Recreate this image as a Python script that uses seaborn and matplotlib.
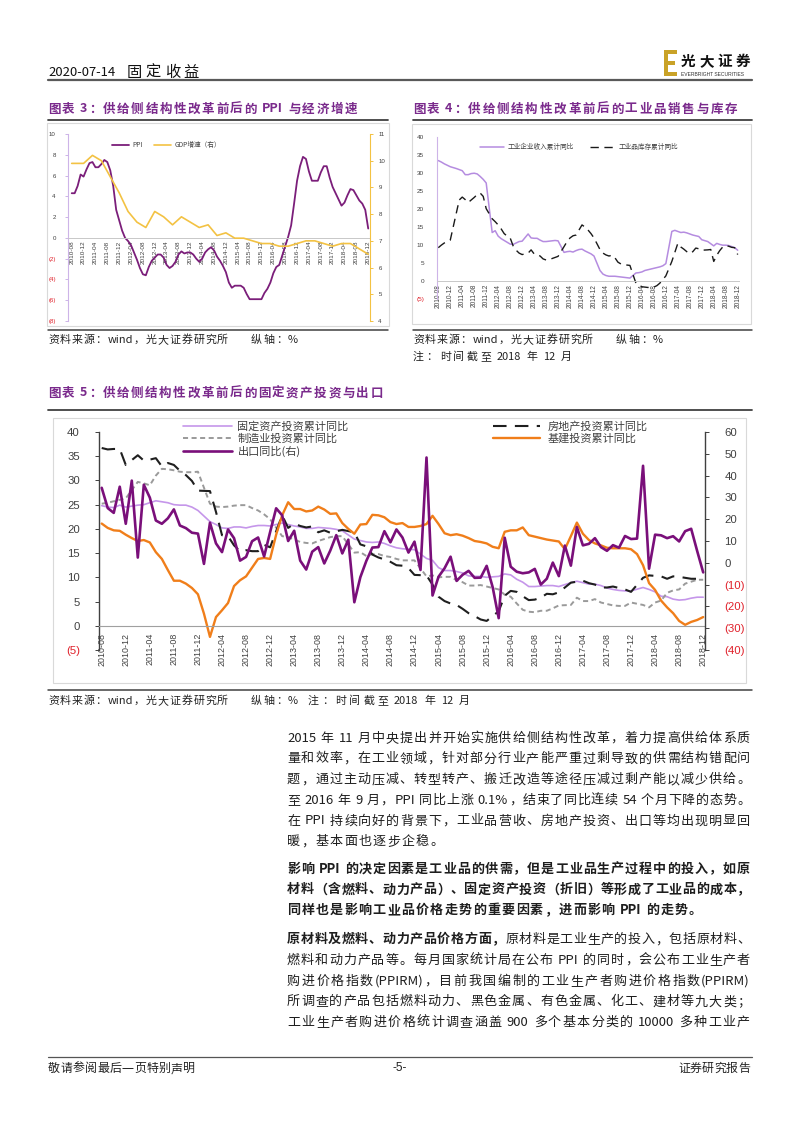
import numpy as np
import pandas as pd
import matplotlib
matplotlib.use('Agg')
import matplotlib.pyplot as plt
import seaborn as sns
from matplotlib.patches import Rectangle
from matplotlib.lines import Line2D
from matplotlib.font_manager import FontProperties

nan = np.nan

# ---------------- data (monthly, 2010-08 .. 2018-12) ----------------
months = pd.period_range('2010-08', '2018-12', freq='M').strftime('%Y-%m').tolist()

ppi = [
    4.3, 4.3, 5.0, 6.1, 5.9,
    6.6, 7.2, 7.3, 6.8, 6.8, 7.1, 7.5, 7.3, 6.5, 5.0, 2.7, 1.7,
    0.7, 0.0, -0.3, -0.7, -1.4, -2.1, -2.9, -3.5, -3.6, -2.8, -2.2, -1.9,
    -1.6, -1.6, -1.9, -2.6, -2.9, -2.7, -2.3, -1.6, -1.3, -1.5, -1.4, -1.4,
    -1.6, -2.0, -2.3, -2.0, -1.4, -1.1, -0.9, -1.2, -1.8, -2.2, -2.7, -3.3,
    -4.3, -4.8, -4.6, -4.6, -4.6, -4.8, -5.4, -5.9, -5.9, -5.9, -5.9, -5.9,
    -5.3, -4.9, -4.3, -3.4, -2.8, -2.6, -1.7, -0.8, 0.1, 1.2, 3.3, 5.5,
    6.9, 7.8, 7.6, 6.4, 5.5, 5.5, 5.5, 6.3, 6.9, 6.9, 5.8, 4.9,
    4.3, 3.7, 3.1, 3.4, 4.1, 4.7, 4.6, 4.1, 3.6, 3.3, 2.7, 0.9,
]

gdp_dates = ['2010-08', '2010-12', '2011-03', '2011-06', '2011-09', '2011-12',
             '2012-03', '2012-06', '2012-09', '2012-12', '2013-03', '2013-06',
             '2013-09', '2013-12', '2014-03', '2014-06', '2014-09', '2014-12',
             '2015-03', '2015-06', '2015-09', '2015-12', '2016-03', '2016-06',
             '2016-09', '2016-12', '2017-03', '2017-06', '2017-09', '2017-12',
             '2018-03', '2018-06', '2018-09', '2018-12']
gdp = [9.9, 9.9, 10.2, 10.0, 9.4, 8.8, 8.1, 7.7, 7.5, 8.1, 7.9, 7.6,
       7.9, 7.7, 7.5, 7.6, 7.2, 7.3, 7.1, 7.1, 7.0, 6.9, 6.9, 6.8,
       6.8, 6.9, 7.0, 7.0, 6.9, 6.8, 6.9, 6.9, 6.7, 6.5]

revenue = [
    33.4, 33.0, 32.5, 32.1, 31.7,
    nan, 31.2, 30.9, 30.6, 29.5, 29.5, 29.8, 29.9, 29.7, 29.0, 28.2, 27.2,
    nan, 13.5, 14.0, 12.5, 11.8, 11.3, 10.8, 10.3, 10.2, 10.6, 11.0, 11.1,
    nan, 13.1, 12.0, 11.9, 11.9, 11.4, 11.0, 11.0, 11.1, 11.2, 11.3, 11.2,
    nan, 8.0, 8.2, 8.3, 8.1, 8.5, 8.8, 8.9, 8.4, 8.0, 7.6, 7.0,
    nan, 3.0, 2.0, 1.6, 1.4, 1.4, 1.4, 1.3, 1.2, 1.1, 1.0, 0.9,
    nan, 2.3, 2.4, 2.6, 3.0, 3.2, 3.4, 3.6, 3.8, 4.0, 4.3, 4.9,
    nan, 13.8, 14.1, 13.8, 13.5, 13.6, 13.4, 13.1, 12.8, 12.6, 12.4, 11.5,
    nan, 11.0, 10.4, 9.8, 10.5, 10.2, 10.0, 10.0, 9.9, 9.6, 9.3, 8.6,
]
inventory = [
    9.3, 10.0, 10.6, 11.0, 11.4,
    nan, 18.8, 22.5, 23.3, 22.6, 21.8, 22.5, 23.2, 24.0, 24.4, 23.5, 20.1,
    nan, 17.3, 16.5, 15.6, 14.5, 13.2, 12.5, 12.0, 9.8, 8.6, 7.8, 7.4,
    nan, 7.8, 8.7, 7.6, 7.4, 7.0, 6.2, 5.9, 6.0, 6.3, 6.6, 6.9,
    nan, 9.6, 11.0, 12.0, 12.6, 12.8, 14.2, 15.6, 15.0, 14.2, 13.2, 12.0,
    nan, 8.8, 7.8, 7.3, 7.0, 7.2, 6.5, 5.3, 4.8, 4.6, 4.5, 4.4,
    nan, -0.5, -1.0, -1.5, -1.6, -1.7, -1.6, -1.6, -1.2, -0.5, 0.5, 1.5,
    nan, 5.5, 8.0, 10.5, 9.5, 8.9, 8.2, 7.7, 8.2, 9.2, 9.0, 8.6,
    nan, 8.7, 8.8, 5.5, 7.2, 8.5, 9.5, 9.9, 9.7, 9.4, 9.3, 7.4,
]

fai = [
    24.8, 24.5, 24.4, 24.9, 24.5,
    nan, 24.9, 25.0, 25.4, 25.8, 25.6, 25.4, 25.0, 24.9, 24.9, 24.5, 23.8,
    nan, 21.5, 20.9, 20.2, 20.1, 20.4, 20.4, 20.2, 20.5, 20.7, 20.7, 20.6,
    nan, 21.2, 20.9, 20.6, 20.4, 20.1, 20.1, 20.3, 20.2, 20.1, 19.9, 19.6,
    nan, 17.9, 17.6, 17.3, 17.2, 17.3, 17.0, 16.5, 16.1, 15.9, 15.8, 15.7,
    nan, 13.9, 13.5, 12.0, 11.4, 11.4, 11.2, 10.9, 10.3, 10.2, 10.2, 10.0,
    nan, 10.2, 10.7, 10.5, 9.6, 9.0, 8.1, 8.1, 8.2, 8.3, 8.3, 8.1,
    nan, 8.9, 9.2, 8.9, 8.6, 8.6, 8.3, 7.8, 7.5, 7.3, 7.2, 7.2,
    nan, 7.9, 7.5, 7.0, 6.1, 6.0, 5.5, 5.3, 5.4, 5.7, 5.9, 5.9,
]
manufacturing = [
    25.2, 25.4, 25.7, 26.0, 26.3,
    nan, 29.7, 29.4, 29.0, 31.0, 32.4, 32.3, 32.1, 31.8, 31.7, 31.7, 31.8,
    nan, 25.2, 24.6, 24.5, 24.6, 24.8, 24.9, 24.9, 24.3, 23.8, 23.0, 22.0,
    nan, 18.5, 18.3, 17.8, 17.3, 17.1, 17.0, 17.5, 17.9, 18.3, 18.5, 18.5,
    nan, 15.1, 15.2, 14.4, 14.8, 14.8, 14.4, 14.2, 13.8, 13.5, 13.5, 13.5,
    nan, 10.2, 10.4, 10.0, 10.1, 10.1, 9.4, 9.0, 8.3, 8.3, 8.4, 8.1,
    nan, 7.5, 6.4, 6.0, 4.6, 3.3, 2.9, 2.8, 3.1, 3.1, 3.6, 4.2,
    nan, 4.3, 5.8, 5.1, 5.1, 5.5, 4.8, 4.5, 4.2, 4.1, 4.1, 4.8,
    nan, 4.3, 3.8, 4.8, 5.2, 6.8, 7.3, 7.5, 8.7, 9.1, 9.5, 9.5,
]
real_estate = [
    36.7, 36.4, 36.5, 36.5, 33.2,
    nan, 35.2, 34.1, 34.3, 34.6, 32.9, 33.6, 33.2, 32.0, 31.1, 29.9, 27.9,
    nan, 27.8, 23.5, 18.7, 18.5, 16.6, 15.4, 15.6, 15.4, 15.4, 16.7, 16.2,
    nan, 22.8, 20.2, 21.1, 20.6, 20.3, 20.5, 19.3, 19.7, 19.2, 19.5, 19.8,
    nan, 19.3, 16.8, 16.4, 14.7, 14.1, 13.7, 13.2, 12.5, 12.4, 11.9, 10.5,
    nan, 10.4, 8.5, 6.0, 5.1, 4.6, 4.3, 3.5, 2.6, 2.0, 1.3, 1.0,
    nan, 3.0, 6.2, 7.2, 7.0, 6.1, 5.3, 5.4, 5.8, 6.6, 6.5, 6.9,
    nan, 8.9, 9.1, 9.3, 8.8, 8.5, 7.9, 7.9, 8.1, 7.8, 7.5, 7.0,
    nan, 9.9, 10.4, 10.3, 10.2, 9.7, 10.2, 10.1, 9.9, 9.7, 9.7, 9.5,
]
infra = [
    21.1, 20.2, 19.7, 19.6, 18.8,
    18.1, 17.5, 17.7, 17.2, 15.2, 13.8, 11.5, 9.3, 9.3, 8.7, 7.8, 6.5,
    2.5, -2.3, 1.8, 3.2, 4.7, 8.2, 9.4, 10.2, 12.0, 13.8, 14.0, 13.8,
    18.8, 22.8, 25.5, 24.1, 24.1, 23.6, 23.8, 24.6, 24.0, 23.1, 23.2, 21.2,
    20.0, 19.0, 20.9, 21.0, 22.9, 22.8, 22.4, 21.4, 21.0, 21.2, 20.4, 20.4,
    20.6, 21.0, 22.7, 21.0, 19.1, 18.7, 18.9, 18.6, 18.1, 17.5, 17.3, 17.0,
    16.3, 16.0, 19.4, 19.7, 19.7, 20.3, 18.7, 18.4, 18.1, 17.8, 17.6, 17.4,
    15.8, 18.5, 21.3, 19.0, 17.7, 17.0, 16.6, 16.1, 16.0, 16.0, 16.0, 15.8,
    14.8, 12.5, 8.8, 7.4, 5.2, 3.8, 2.6, 1.0, 0.2, 0.8, 1.2, 1.8,
]
export = [
    34.4, 25.1, 22.9, 34.9, 17.9,
    37.7, 2.4, 35.8, 29.9, 19.4, 17.9, 20.4, 24.5, 17.1, 15.9, 13.8, 13.4,
    -0.5, 18.4, 8.9, 4.9, 15.3, 11.3, 1.0, 2.7, 9.9, 11.6, 2.9, 14.1,
    25.0, 21.8, 10.0, 14.7, 1.0, -3.1, 5.1, 7.2, -0.3, 5.6, 12.7, 4.3,
    10.6, -18.1, -6.6, 0.9, 7.0, 7.2, 14.5, 9.4, 15.3, 11.6, 4.7, 9.7,
    -3.3, 48.3, -15.0, -6.4, -2.5, 2.8, -8.3, -5.5, -3.7, -6.9, -6.8, -1.4,
    -11.2, -25.4, 11.5, -1.8, -4.1, -4.8, -4.4, -2.8, -10.0, -7.3, 0.1, -6.1,
    7.9, -1.3, 16.4, 8.0, 8.7, 11.3, 7.2, 5.5, 8.1, 6.9, 12.3, 10.9,
    11.1, 44.5, -2.7, 12.9, 12.6, 11.3, 12.2, 9.8, 14.5, 15.6, 5.4, -4.4,
]

df = pd.DataFrame({'m': np.arange(len(months)), 'month': months, 'ppi': ppi,
                   'revenue': revenue, 'inventory': inventory, 'fai': fai,
                   'manufacturing': manufacturing, 'real_estate': real_estate,
                   'infra': infra, 'export': export})
gdp_df = pd.DataFrame({'m': [months.index(d) for d in gdp_dates], 'gdp': gdp})
tick_pos = df['m'][::4].tolist()
tick_labels = df['month'][::4].tolist()

# ---------------- page setup ----------------
sns.set_style('white')
CJK = ['Noto Sans CJK SC', 'DejaVu Sans']
LAT = ['Liberation Sans', 'DejaVu Sans']
plt.rcParams['font.family'] = CJK
plt.rcParams['axes.unicode_minus'] = False

W, H = 800, 1132
fig = plt.figure(figsize=(8, 11.32), dpi=100)
fig.patch.set_facecolor('white')
renderer = fig.canvas.get_renderer()

PURPLE_T = '#7A2A8C'
RED = '#E0202A'


def box(x0, y0, x1, y1):
    return [x0 / W, 1 - y1 / H, (x1 - x0) / W, (y1 - y0) / H]


def hline(y, x0, x1, color='#555555', lw=1.1):
    fig.add_artist(Line2D([x0 / W, x1 / W], [1 - y / H] * 2, color=color, lw=lw))


def frame(x0, y0, x1, y1):
    fig.add_artist(Rectangle((x0 / W, 1 - y1 / H), (x1 - x0) / W, (y1 - y0) / H,
                             fill=False, ec='#D9D9D9', lw=0.8))


def tokens(s):
    out, run = [], ''
    for ch in s:
        if ch == ' ':
            if run:
                out.append(run)
                run = ''
            out.append(' ')
        elif ord(ch) < 128:
            run += ch
        else:
            if run:
                out.append(run)
                run = ''
            out.append(ch)
    if run:
        out.append(run)
    return out


def put(x0, yc, segs, size, x1=None, gap=1.0, color='#222222'):
    # lays text out token by token, spread to x1 when given (justified lines)
    if isinstance(segs, str):
        segs = [(segs, 'normal')]
    px = size * 100 / 72
    items = []
    for s, wt in segs:
        prop = FontProperties(family=CJK, size=size, weight=wt)
        for t in tokens(s):
            if t == ' ':
                if items:
                    items[-1][3] += 0.28 * px
            else:
                w = renderer.get_text_width_height_descent(t, prop, ismath=False)[0]
                items.append([t, wt, w, 0.0])
    total = sum(i[2] + i[3] for i in items[:-1]) + items[-1][2]
    if x1 is not None and len(items) > 1:
        gap = (x1 - x0 - total) / (len(items) - 1)
    x = x0
    base = yc + 0.36 * px
    for t, wt, w, sp in items:
        fig.text(x / W, 1 - base / H, t, fontsize=size, weight=wt, color=color,
                 va='baseline', ha='left')
        x += w + sp + gap


def paren(v):
    return f'({abs(int(v))})' if v < 0 else f'{int(v)}'


def style_x(ax, size, pad, zero_color, zero_lw, tick_len=0):
    # spine position first: moving the spine resets the tick objects
    ax.spines['bottom'].set_position(('data', 0))
    ax.spines['bottom'].set_color(zero_color)
    ax.spines['bottom'].set_linewidth(zero_lw)
    ax.set_xticks(tick_pos)
    ax.set_xticklabels(tick_labels)
    ax.tick_params(axis='x', length=tick_len, width=0.6, color=zero_color, pad=pad,
                   labelrotation=90, labelsize=size, labelcolor='#404040')
    for t in ax.get_xticklabels():
        t.set_fontfamily(LAT)


def style_y(ax, ticks, size, color, pad, tick_len):
    ax.set_yticks(ticks)
    ax.set_yticklabels([paren(v) for v in ticks])
    ax.tick_params(axis='y', length=tick_len, width=0.7, color=color, pad=pad, labelsize=size)
    for t, v in zip(ax.get_yticklabels(), ticks):
        t.set_color(RED if v < 0 else '#404040')
        t.set_fontfamily(LAT)


# ---------------- header / footer ----------------
put(48, 71, '2020-07-14', 9.4, color='#111111')
put(127, 71, '固定收益', 11, x1=199, color='#111111')
hline(80, 48, 752, color='#595959', lw=1.6)
gold = '#C9A227'
for (a, b, c, d) in [(664, 50, 668, 76), (664, 50, 677, 54), (664, 61, 675, 65), (664, 72, 677, 76)]:
    fig.add_artist(Rectangle((a / W, 1 - d / H), (c - a) / W, (d - b) / H, color=gold, lw=0))
put(681, 61, [('光大证券', 'bold')], 10.5, x1=750, color='#111111')
fig.text(681 / W, 1 - 75 / H, 'EVERBRIGHT SECURITIES', fontsize=3.6, family=LAT,
         color='#333333', va='center', ha='left')

hline(1057, 48, 752, color='#555555', lw=0.9)
put(48, 1068, '敬请参阅最后一页特别声明', 8.6, x1=195, color='#222222')
fig.text(400 / W, 1 - 1068 / H, '-5-', fontsize=8.6, family=LAT, ha='center', va='center', color='#222222')
put(678, 1068, '证券研究报告', 8.6, x1=750, color='#222222')

# ---------------- figure titles / rules / sources ----------------
put(48, 108, [('图表 3：供给侧结构性改革前后的 PPI 与经济增速', 'bold')], 9, x1=357, color=PURPLE_T)
put(413, 108, [('图表 4：供给侧结构性改革前后的工业品销售与库存', 'bold')], 9, x1=737, color=PURPLE_T)
hline(120, 48, 388, color='#404040', lw=1.3)
hline(120, 413, 752, color='#404040', lw=1.3)
frame(47, 123, 389, 326)
frame(412, 124, 751, 324)
hline(330, 48, 388, color='#404040', lw=1.1)
hline(330, 413, 752, color='#404040', lw=1.1)
put(48, 339, '资料来源：wind，光大证券研究所', 7.9, x1=228)
put(251, 339, '纵轴：%', 7.9, x1=298)
put(413, 339, '资料来源：wind，光大证券研究所', 7.9, x1=593)
put(616, 339, '纵轴：%', 7.9, x1=663)
put(413, 356, '注：时间截至 2018 年 12 月', 7.9, x1=572)

put(48, 392, [('图表 5：供给侧结构性改革前后的固定资产投资与出口', 'bold')], 9, x1=383, color=PURPLE_T)
hline(410, 48, 752, color='#404040', lw=1.3)
frame(53, 418, 746, 683)
hline(690, 48, 752, color='#404040', lw=1.1)
put(48, 700, '资料来源：wind，光大证券研究所', 7.9, x1=228)
put(251, 700, '纵轴：%', 7.9, x1=298)
put(308, 700, '注：时间截至 2018 年 12 月', 7.9, x1=470)

# ---------------- chart 1: PPI & GDP ----------------
LAV = '#CDB4E8'
GOLD = '#F3C243'
ax1 = fig.add_axes(box(68.3, 134, 370, 321))
sns.lineplot(data=df, x='m', y='ppi', ax=ax1, color='#7B1E7A', lw=1.3, estimator=None)
ax1.set_xlim(-1.15, 100.6)
ax1.set_ylim(-8, 10)
style_x(ax1, 4.6, 2, '#C8C8C8', 0.7)
style_y(ax1, list(range(-8, 11, 2)), 4.4, LAV, 7, 2)
ax1.spines['left'].set_color(LAV)
ax1.spines['top'].set_visible(False)
ax1.spines['right'].set_visible(False)
ax1.set_xlabel('')
ax1.set_ylabel('')
ax1.patch.set_visible(False)

ax1b = ax1.twinx()
sns.lineplot(data=gdp_df, x='m', y='gdp', ax=ax1b, color=GOLD, lw=1.2, estimator=None)
ax1b.set_ylim(4, 11)
style_y(ax1b, list(range(4, 12)), 4.4, GOLD, 4, 2)
for s in ['top', 'left', 'bottom']:
    ax1b.spines[s].set_visible(False)
ax1b.spines['right'].set_color(GOLD)
ax1b.set_ylabel('')
ax1b.legend([ax1.lines[0], ax1b.lines[0]], ['PPI', 'GDP增速（右）'], ncol=2,
            loc='center left', bbox_to_anchor=(112 / W, 1 - 145 / H),
            bbox_transform=fig.transFigure, frameon=False, borderpad=0, borderaxespad=0,
            prop=FontProperties(family=CJK, size=4.8), labelcolor='#404040',
            handlelength=2.6, handletextpad=0.5, columnspacing=1.6)

# ---------------- chart 2: revenue & inventory ----------------
ax2 = fig.add_axes(box(436.7, 136.7, 739.2, 299.4))
sns.lineplot(data=df.dropna(subset=['revenue']), x='m', y='revenue', ax=ax2,
             color='#B58CE0', lw=1.1, estimator=None)
sns.lineplot(data=df.dropna(subset=['inventory']), x='m', y='inventory', ax=ax2,
             color='#1A1A1A', lw=1.0, estimator=None)
ax2.lines[1].set_dashes([6, 4])
ax2.set_xlim(-0.53, 100.5)
ax2.set_ylim(-5, 40)
style_x(ax2, 4.7, 2, '#C8C8C8', 0.7)
style_y(ax2, list(range(-5, 41, 5)), 4.6, LAV, 7, 2)
ax2.spines['left'].set_color(LAV)
ax2.spines['top'].set_visible(False)
ax2.spines['right'].set_visible(False)
ax2.set_xlabel('')
ax2.set_ylabel('')
ax2.patch.set_visible(False)
ax2.legend(ax2.lines[:2], ['工业企业收入累计同比', '工业品库存累计同比'], ncol=2,
           loc='center left', bbox_to_anchor=(480 / W, 1 - 147 / H),
           bbox_transform=fig.transFigure, frameon=False, borderpad=0, borderaxespad=0,
           prop=FontProperties(family=CJK, size=4.8), labelcolor='#404040',
           handlelength=3.6, handletextpad=0.6, columnspacing=2.4)

# ---------------- chart 3: investment & export ----------------
ax3 = fig.add_axes(box(99.3, 432, 705, 650))
sns.lineplot(data=df.dropna(subset=['fai']), x='m', y='fai', ax=ax3,
             color='#C596EA', lw=1.2, estimator=None)
sns.lineplot(data=df.dropna(subset=['manufacturing']), x='m', y='manufacturing', ax=ax3,
             color='#9A9A9A', lw=1.4, estimator=None)
ax3.lines[-1].set_dashes([2.6, 1.8])
sns.lineplot(data=df.dropna(subset=['real_estate']), x='m', y='real_estate', ax=ax3,
             color='#1F1F1F', lw=1.5, estimator=None)
ax3.lines[-1].set_dashes([6.5, 4])
sns.lineplot(data=df, x='m', y='infra', ax=ax3, color='#F07E1A', lw=1.7, estimator=None)
ax3.set_xlim(-0.4, 100.3)
ax3.set_ylim(-5, 40)
style_x(ax3, 6.4, 3, '#A0A0A0', 0.8, tick_len=2)
style_y(ax3, list(range(-5, 41, 5)), 8.2, '#404040', 11, 3)
ax3.spines['left'].set_color('#404040')
ax3.spines['left'].set_linewidth(1.0)
ax3.spines['top'].set_visible(False)
ax3.spines['right'].set_visible(False)
ax3.set_xlabel('')
ax3.set_ylabel('')
ax3.patch.set_visible(False)

ax3b = ax3.twinx()
sns.lineplot(data=df, x='m', y='export', ax=ax3b, color='#7A0F7A', lw=1.9, estimator=None)
ax3b.set_ylim(-40, 60)
style_y(ax3b, list(range(-40, 61, 10)), 8.2, '#404040', 11, 3)
for s in ['top', 'left', 'bottom']:
    ax3b.spines[s].set_visible(False)
ax3b.spines['right'].set_color('#404040')
ax3b.spines['right'].set_linewidth(1.0)
ax3b.set_ylabel('')

leg_prop = FontProperties(family=CJK, size=8)
leg1 = ax3b.legend([ax3.lines[0], ax3.lines[1], ax3b.lines[0]],
                   ['固定资产投资累计同比', '制造业投资累计同比', '出口同比(右)'],
                   loc='upper left', bbox_to_anchor=(183 / W, 1 - 421 / H),
                   bbox_transform=fig.transFigure, frameon=False, borderpad=0,
                   borderaxespad=0, prop=leg_prop, labelcolor='#404040',
                   handlelength=4.4, handletextpad=0.5, labelspacing=0.2)
ax3b.add_artist(leg1)
ax3b.legend([ax3.lines[2], ax3.lines[3]], ['房地产投资累计同比', '基建投资累计同比'],
            loc='upper left', bbox_to_anchor=(493 / W, 1 - 421 / H),
            bbox_transform=fig.transFigure, frameon=False, borderpad=0,
            borderaxespad=0, prop=leg_prop, labelcolor='#404040',
            handlelength=4.2, handletextpad=0.7, labelspacing=0.2)

# ---------------- body text ----------------
BS = 9.4
X0, X1 = 287, 750
body = [
    (737.0, [('2015 年 11 月中央提出并开始实施供给侧结构性改革，着力提高供给体系质', 'normal')], True),
    (757.7, [('量和效率，在工业领域，针对部分行业产能严重过剩导致的供需结构错配问', 'normal')], True),
    (778.4, [('题，通过主动压减、转型转产、搬迁改造等途径压减过剩产能以减少供给。', 'normal')], True),
    (799.1, [('至 2016 年 9 月，PPI 同比上涨 0.1%，结束了同比连续 54 个月下降的态势。', 'normal')], True),
    (819.8, [('在 PPI 持续向好的背景下，工业品营收、房地产投资、出口等均出现明显回', 'normal')], True),
    (840.5, [('暖，基本面也逐步企稳。', 'normal')], False),
    (868.0, [('影响 PPI 的决定因素是工业品的供需，但是工业品生产过程中的投入，如原', 'bold')], True),
    (888.7, [('材料（含燃料、动力产品）、固定资产投资（折旧）等形成了工业品的成本，', 'bold')], True),
    (909.4, [('同样也是影响工业品价格走势的重要因素，进而影响 PPI 的走势。', 'bold')], False),
    (938.5, [('原材料及燃料、动力产品价格方面，', 'bold'), ('原材料是工业生产的投入，包括原材料、', 'normal')], True),
    (959.2, [('燃料和动力产品等。每月国家统计局在公布 PPI 的同时，会公布工业生产者', 'normal')], True),
    (979.9, [('购进价格指数(PPIRM)，目前我国编制的工业生产者购进价格指数(PPIRM)', 'normal')], True),
    (1000.6, [('所调查的产品包括燃料动力、黑色金属、有色金属、化工、建材等九大类；', 'normal')], True),
    (1021.3, [('工业生产者购进价格统计调查涵盖 900 多个基本分类的 10000 多种工业产', 'normal')], True),
]
for yc, segs, just in body:
    put(X0, yc, segs, BS, x1=X1 if just else None, gap=1.3, color='#1E1E1E')

fig.savefig('out.png', dpi=100, facecolor='white')
